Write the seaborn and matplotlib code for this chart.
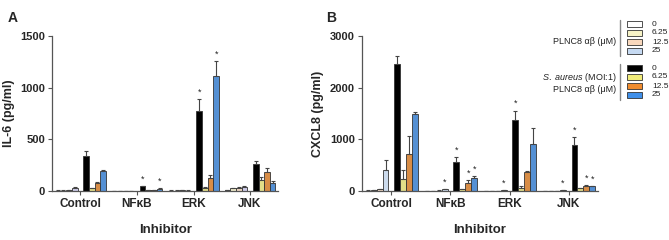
import numpy as np
import pandas as pd
import matplotlib
matplotlib.use("Agg")
import matplotlib.pyplot as plt
import matplotlib.patches as patches
import seaborn as sns

# ---------------------------------------------------------------
# data
# ---------------------------------------------------------------
inhibitors = ["Control", "NFκB", "ERK", "JNK"]
levels = ["0", "6.25", "12.5", "25", "gap", "Sa 0", "Sa 6.25", "Sa 12.5", "Sa 25"]

# IL-6 (pg/ml), one list per bar level, values over the 4 inhibitors
il6_0 = [5, 2, 5, 10]
il6_625 = [5, 2, 5, 25]
il6_125 = [10, 2, 10, 30]
il6_25 = [30, 3, 5, 35]
il6_sa0 = [340, 45, 773, 259]
il6_sa625 = [29, 8, 30, 110]
il6_sa125 = [78, 8, 126, 187]
il6_sa25 = [194, 23, 1112, 78]
il6_err = [[2, 1, 2, 3], [2, 1, 2, 8], [3, 1, 3, 8], [5, 1, 2, 10], [0, 0, 0, 0],
           [45, 8, 113, 32], [5, 2, 5, 26], [9, 2, 26, 36], [13, 5, 149, 22]]
il6_stars = [(1, 5), (1, 8), (2, 5), (2, 8)]   # (inhibitor, level)

# CXCL8 (pg/ml)
cxcl8_0 = [10, 5, 5, 5]
cxcl8_625 = [15, 5, 5, 5]
cxcl8_125 = [30, 10, 5, 5]
cxcl8_25 = [402, 30, 15, 15]
cxcl8_sa0 = [2460, 565, 1376, 889]
cxcl8_sa625 = [240, 40, 58, 50]
cxcl8_sa125 = [714, 156, 370, 104]
cxcl8_sa25 = [1486, 247, 902, 90]
cxcl8_err = [[3, 2, 2, 2], [3, 2, 2, 2], [10, 3, 2, 2], [195, 8, 5, 5], [0, 0, 0, 0],
             [149, 97, 182, 162], [175, 8, 32, 10], [357, 52, 13, 8], [39, 45, 325, 15]]
cxcl8_stars = [(1, 3), (1, 5), (1, 7), (1, 8), (2, 3), (2, 5), (3, 3), (3, 5), (3, 7), (3, 8)]

legend_labels = ["0", "6.25", "12.5", "25"]

colors_a = ["#ffffff", "#f6f2c6", "#f8d8bd", "#c9c6ee", "#ffffff",
            "#000000", "#f1ec7a", "#f08c2e", "#3f8fe9"]
colors_b = ["#ffffff", "#f6f2c6", "#f8d8bd", "#c6daf2", "#ffffff",
            "#000000", "#f1ec7a", "#f08c2e", "#3f8fe9"]


def make_df(series):
    rows = []
    for lev, vals in zip(levels, series):
        for inh, v in zip(inhibitors, vals):
            rows.append([inh, lev, v])
    return pd.DataFrame(rows, columns=["Inhibitor", "Level", "Value"])


def draw_panel(ax, series, errs, stars, colors, ymax, yticks, ylabel):
    df = make_df(series)
    sns.barplot(data=df, x="Inhibitor", y="Value", hue="Level", order=inhibitors,
                hue_order=levels, palette=colors, width=0.9, errorbar=None,
                edgecolor="#333333", linewidth=0.6, legend=False, ax=ax)
    bars = list(ax.containers)

    # hide the spacer level
    for bar in bars[4]:
        bar.set_visible(False)

    # upward error bars only
    for i, cont in enumerate(bars):
        if i == 4:
            continue
        xs = [b.get_x() + b.get_width() / 2 for b in cont]
        hs = [b.get_height() for b in cont]
        e = errs[i]
        ax.errorbar(xs, hs, yerr=[np.zeros(len(e)), e], fmt="none",
                    ecolor="#444444", elinewidth=0.8, capsize=1.6, capthick=0.8)

    for (g, lev) in stars:
        b = bars[lev][g]
        top = b.get_height() + errs[lev][g]
        ax.text(b.get_x() + b.get_width() / 2, top + ymax * 0.015, "*",
                ha="center", va="bottom", fontsize=6.5, color="#222222")

    ax.set_ylim(0, ymax)
    ax.set_xlim(-0.5, 3.5)
    ax.set_yticks(yticks)
    ax.set_yticklabels([str(t) for t in yticks], fontweight="bold", fontsize=8)
    ax.set_xticks(range(len(inhibitors)))
    ax.set_xticklabels(inhibitors, fontweight="bold", fontsize=8.5)
    ax.set_ylabel(ylabel, fontweight="bold", fontsize=9)
    ax.set_xlabel("Inhibitor", fontweight="bold", fontsize=9.5, labelpad=10)
    for s in ["top", "right"]:
        ax.spines[s].set_visible(False)
    for s in ["left", "bottom"]:
        ax.spines[s].set_color("#555555")
        ax.spines[s].set_linewidth(0.9)
    ax.tick_params(axis="both", length=3, width=0.8, color="#555555", pad=2)


sns.set_style("ticks")
plt.rcParams["font.family"] = ["Liberation Sans", "DejaVu Sans"]
plt.rcParams["mathtext.fontset"] = "custom"
plt.rcParams["mathtext.rm"] = "Liberation Sans"
plt.rcParams["mathtext.it"] = "Liberation Sans:italic"

fig = plt.figure(figsize=(6.69, 2.4), dpi=100)
ax_a = fig.add_axes([0.078, 0.204, 0.338, 0.646])
ax_b = fig.add_axes([0.541, 0.204, 0.353, 0.646])

draw_panel(ax_a, [il6_0, il6_625, il6_125, il6_25, [0, 0, 0, 0],
                  il6_sa0, il6_sa625, il6_sa125, il6_sa25],
           il6_err, il6_stars, colors_a, 1500, [0, 500, 1000, 1500], "IL-6 (pg/ml)")
draw_panel(ax_b, [cxcl8_0, cxcl8_625, cxcl8_125, cxcl8_25, [0, 0, 0, 0],
                  cxcl8_sa0, cxcl8_sa625, cxcl8_sa125, cxcl8_sa25],
           cxcl8_err, cxcl8_stars, colors_b, 3000, [0, 1000, 2000, 3000], "CXCL8 (pg/ml)")

fig.text(0.012, 0.955, "A", fontweight="bold", fontsize=10, va="top")
fig.text(0.488, 0.955, "B", fontweight="bold", fontsize=10, va="top")

# custom legend (two groups)
W, H = 669.0, 240.0
rows_y = [[24, 33, 42, 51], [68, 77, 86, 95]]
group_cols = [colors_b[0:4], colors_b[5:9]]
for gi in range(2):
    for k in range(4):
        y = rows_y[gi][k]
        fig.patches.append(patches.Rectangle((627 / W, 1 - (y + 2.5) / H), 15 / W, 5 / H,
                                             transform=fig.transFigure, facecolor=group_cols[gi][k],
                                             edgecolor="#333333", linewidth=0.6))
        fig.text(652 / W, 1 - y / H, legend_labels[k], fontsize=6, va="center", color="#222222")
    y0 = rows_y[gi][0] - 4
    y1 = rows_y[gi][3] + 5
    fig.add_artist(plt.Line2D([620 / W, 620 / W], [1 - y0 / H, 1 - y1 / H],
                              transform=fig.transFigure, color="#888888", linewidth=1.0))

fig.text(616 / W, 1 - 42 / H, "PLNC8 αβ (μM)", fontsize=6.5, ha="right", va="center", color="#222222")
fig.text(616 / W, 1 - 77 / H, r"$\it{S.\ aureus}$ (MOI:1)", fontsize=6.5, ha="right", va="center",
         color="#222222")
fig.text(616 / W, 1 - 90 / H, "PLNC8 αβ (μM)", fontsize=6.5, ha="right", va="center", color="#222222")

fig.savefig("out.png", dpi=100)
